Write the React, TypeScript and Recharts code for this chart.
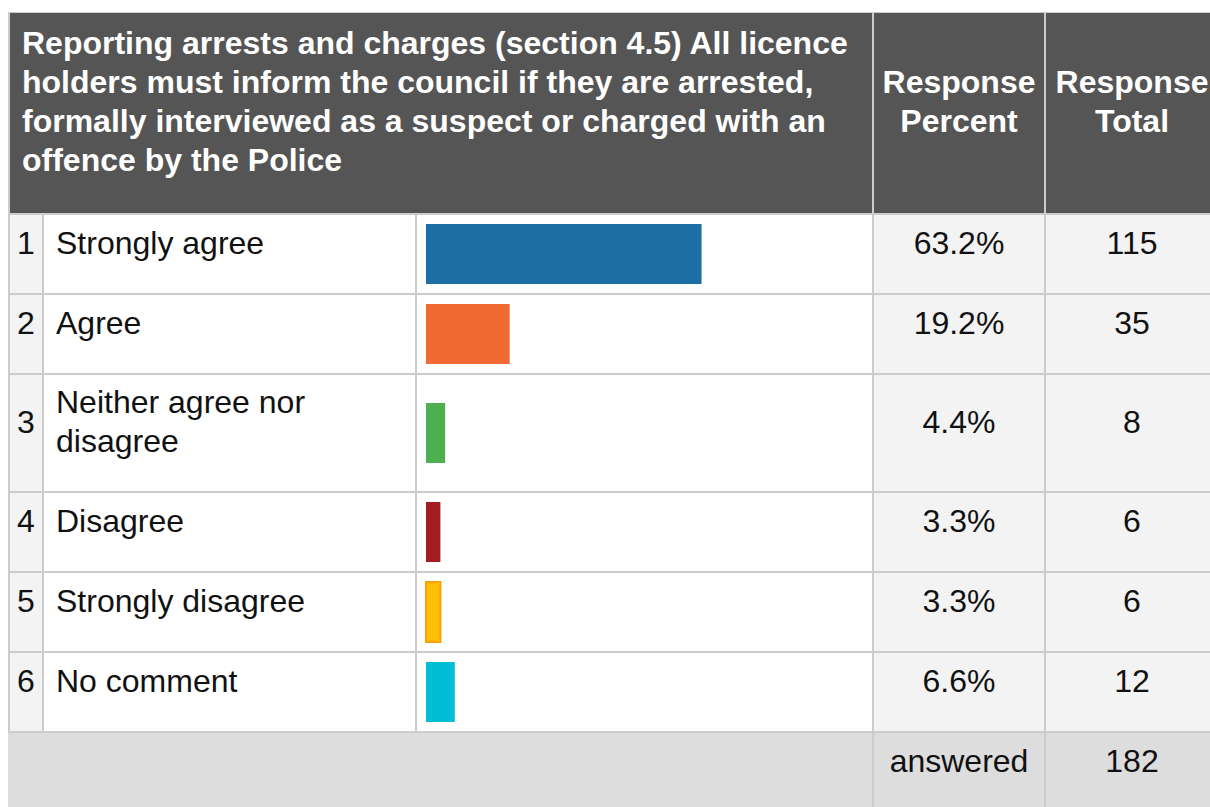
import { BarChart, Bar, XAxis, YAxis } from "recharts";

const questionLines = [
  "Reporting arrests and charges (section 4.5) All licence",
  "holders must inform the council if they are arrested,",
  "formally interviewed as a suspect or charged with an",
  "offence by the Police"
];
const categories = [
  "Strongly agree",
  "Agree",
  "Neither agree nor disagree",
  "Disagree",
  "Strongly disagree",
  "No comment"
];
const percents = [63.2, 19.2, 4.4, 3.3, 3.3, 6.6];
const totals = [115, 35, 8, 6, 6, 12];
const answeredTotal = 182;
const barColors = ["#1c6ea4", "#f16a34", "#4caf50", "#a31c1f", "#ffc107", "#00bcd4"];
const barStrokes = ["none", "none", "none", "none", "#ffa000", "none"];

const line = "2px solid #cccccc";
const font = '"Liberation Sans", Arial, sans-serif';
// column widths, content only (each followed by a 2px rule)
const W = { num: 32, label: 371, bar: 455, pct: 170, total: 172 };

const cellText = {
  display: "flex",
  alignItems: "center",
  boxSizing: "content-box" as const,
  paddingTop: 8,
  paddingBottom: 30,
  minHeight: 40
};

const RowBar = ({ i }: { i: number }) => {
  const data = [{ name: categories[i], value: percents[i] }];
  return (
    <div style={{ position: "absolute", left: 0, top: "calc(50% - 39px)" }}>
      <BarChart
        width={W.bar}
        height={78}
        layout="vertical"
        data={data}
        margin={{ top: 0, right: 10, bottom: 0, left: 9 }}
      >
        <XAxis type="number" domain={[0, 100]} hide />
        <YAxis type="category" dataKey="name" hide />
        <Bar
          dataKey="value"
          barSize={60}
          fill={barColors[i]}
          stroke={barStrokes[i]}
          strokeWidth={2}
          isAnimationActive={false}
        />
      </BarChart>
    </div>
  );
};

const App = () => {
  return (
    <div
      style={{
        position: "absolute",
        left: 0,
        top: 0,
        width: 1210,
        height: 807,
        overflow: "hidden",
        background: "#fff",
        fontFamily: font,
        fontSize: 32,
        lineHeight: "39px",
        color: "#111"
      }}
    >
      <div style={{ position: "absolute", left: 8, top: 12, width: 1220 }}>
        {/* header */}
        <div
          style={{
            display: "flex",
            borderTop: "1px solid #cccccc",
            borderLeft: line,
            borderBottom: line,
            background: "#555555",
            color: "#fff",
            fontWeight: "bold",
            height: 200
          }}
        >
          <div
            style={{
              width: W.num + W.label + W.bar + 4 - 12,
              flexShrink: 0,
              borderRight: line,
              display: "flex",
              alignItems: "center",
              paddingLeft: 12,
              paddingBottom: 22
            }}
          >
            <div>
              {questionLines.map((t) => (
                <div key={t} style={{ whiteSpace: "nowrap" }}>{t}</div>
              ))}
            </div>
          </div>
          <div
            style={{
              width: W.pct,
              flexShrink: 0,
              borderRight: line,
              display: "flex",
              alignItems: "center",
              justifyContent: "center",
              textAlign: "center",
              paddingBottom: 22
            }}
          >
            Response<br />Percent
          </div>
          <div
            style={{
              width: W.total,
              flexShrink: 0,
              display: "flex",
              alignItems: "center",
              justifyContent: "center",
              textAlign: "center",
              paddingBottom: 22
            }}
          >
            Response<br />Total
          </div>
        </div>

        {/* rows */}
        {categories.map((c, i) => (
          <div key={c} style={{ display: "flex", borderLeft: line, borderBottom: line }}>
            <div
              style={{
                ...cellText,
                width: W.num,
                flexShrink: 0,
                justifyContent: "center",
                background: "#f3f3f3",
                borderRight: line
              }}
            >
              {i + 1}
            </div>
            <div
              style={{
                ...cellText,
                width: W.label - 24,
                flexShrink: 0,
                paddingLeft: 12,
                paddingRight: 12,
                background: "#fff",
                borderRight: line
              }}
            >
              <div>{c}</div>
            </div>
            <div
              style={{
                width: W.bar,
                flexShrink: 0,
                position: "relative",
                background: "#fff",
                borderRight: line
              }}
            >
              <RowBar i={i} />
            </div>
            <div
              style={{
                ...cellText,
                width: W.pct,
                flexShrink: 0,
                justifyContent: "center",
                background: "#f3f3f3",
                borderRight: line
              }}
            >
              {percents[i].toFixed(1)}%
            </div>
            <div
              style={{
                ...cellText,
                width: W.total,
                flexShrink: 0,
                justifyContent: "center",
                background: "#f3f3f3"
              }}
            >
              {totals[i]}
            </div>
          </div>
        ))}

        {/* footer */}
        <div style={{ display: "flex", background: "#dddddd", height: 78 }}>
          <div style={{ width: W.num + W.label + W.bar + 6, flexShrink: 0, borderRight: line }} />
          <div
            style={{
              width: W.pct,
              flexShrink: 0,
              borderRight: line,
              display: "flex",
              alignItems: "center",
              justifyContent: "center",
              paddingBottom: 22
            }}
          >
            answered
          </div>
          <div
            style={{
              width: W.total,
              flexShrink: 0,
              display: "flex",
              alignItems: "center",
              justifyContent: "center",
              paddingBottom: 22
            }}
          >
            {answeredTotal}
          </div>
        </div>
      </div>
    </div>
  );
};

export default App;
